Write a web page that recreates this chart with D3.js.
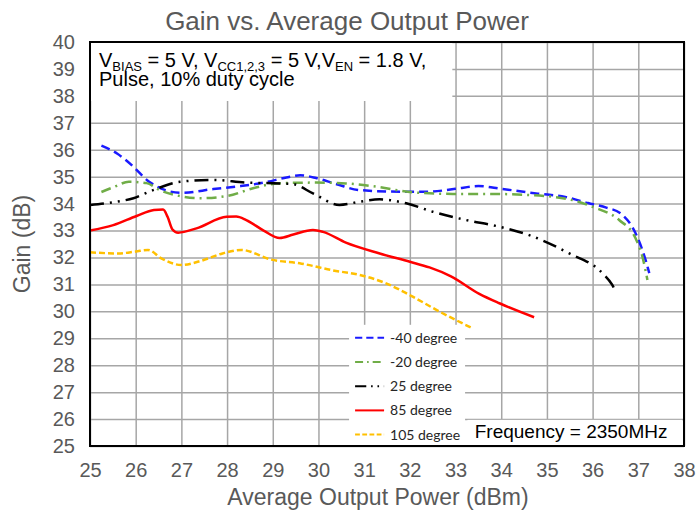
<!DOCTYPE html>
<html>
<head>
<meta charset="utf-8">
<script src="https://cdn.jsdelivr.net/npm/d3@7"></script>
<style>
  body { margin: 0; background: #fff; }
  text { font-family: "Liberation Sans", Arial, sans-serif; }
</style>
</head>
<body>
<svg id="chart" width="697" height="517"></svg>
<script>
// data: [output power dBm, gain dB]
const seriesNames = ["-40 degree", "-20 degree", "25 degree", "85 degree", "105 degree"];
const gainM40 = [[25.25,36.15],[25.6,35.85],[25.95,35.37],[26.25,34.87],[26.65,34.5],[27.0,34.4],[27.7,34.54],[28.3,34.65],[28.86,34.8],[29.3,34.97],[29.6,35.05],[29.95,34.95],[30.4,34.72],[30.9,34.5],[31.9,34.44],[32.4,34.44],[33.0,34.55],[33.5,34.65],[34.0,34.55],[34.8,34.37],[35.4,34.25],[35.9,34.02],[36.3,33.85],[36.6,33.65],[36.94,32.9],[37.16,31.9],[37.24,31.42]];
const gainM20 = [[25.25,34.43],[25.5,34.6],[25.85,34.81],[26.24,34.76],[26.53,34.5],[26.97,34.28],[27.4,34.2],[28.0,34.28],[28.57,34.57],[29.0,34.73],[29.45,34.77],[29.95,34.78],[30.6,34.75],[31.26,34.63],[32.06,34.42],[32.94,34.36],[33.66,34.36],[34.61,34.32],[35.56,34.13],[36.0,33.88],[36.58,33.39],[36.94,32.71],[37.09,32.03],[37.2,31.16]];
const gain25 = [[25.0,33.95],[25.5,34.05],[25.95,34.2],[26.38,34.5],[26.97,34.81],[27.69,34.88],[28.42,34.78],[29.15,34.75],[29.45,34.72],[29.88,34.38],[30.46,33.95],[30.9,34.07],[31.34,34.16],[31.92,34.01],[32.5,33.7],[33.23,33.39],[33.89,33.17],[34.61,32.83],[35.49,32.15],[36.22,31.41],[36.43,30.98],[36.5,30.75]];
const gain85 = [[25.0,33.0],[25.51,33.2],[26.02,33.54],[26.4,33.76],[26.6,33.78],[26.7,33.5],[26.8,33.05],[26.93,32.92],[27.33,33.08],[27.99,33.51],[28.2,33.52],[28.42,33.39],[28.8,33.0],[29.15,32.72],[29.45,32.85],[29.88,33.02],[30.1,32.95],[30.6,32.55],[31.34,32.15],[32.0,31.84],[32.43,31.63],[32.9,31.3],[33.52,30.65],[33.96,30.3],[34.72,29.78]];
const gain105 = [[25.0,32.19],[25.62,32.15],[26.0,32.22],[26.27,32.28],[26.56,31.97],[27.0,31.72],[27.44,31.88],[27.9,32.15],[28.31,32.28],[28.97,31.92],[29.63,31.77],[30.32,31.52],[30.9,31.35],[31.48,31.04],[31.99,30.61],[32.65,29.99],[33.37,29.37]];
const xTicks = d3.range(25, 39);
const yTicks = d3.range(25, 41);

const series = [
  { name: seriesNames[0], values: gainM40, color: "#1a1aff", dash: "9,5" },
  { name: seriesNames[1], values: gainM20, color: "#70ad47", dash: "10,5,2,5" },
  { name: seriesNames[2], values: gain25, color: "#000000", dash: "14,6,2,6,2,6" },
  { name: seriesNames[3], values: gain85, color: "#ff0000", dash: null },
  { name: seriesNames[4], values: gain105, color: "#ffc000", dash: "6,3" }
];

const margin = { top: 42, left: 90, right: 13, bottom: 71 };
const width = 697, height = 517;
const plotWidth = width - margin.left - margin.right;
const plotHeight = height - margin.top - margin.bottom;
const textColor = "#595959";

const svg = d3.select("#chart");

const x = d3.scaleLinear([25, 38], [0, plotWidth]);
const y = d3.scaleLinear([25, 40], [plotHeight, 0]);

svg.append("text")
  .attr("x", 347).attr("y", 30)
  .attr("text-anchor", "middle")
  .attr("font-size", 26)
  .attr("fill", textColor)
  .text("Gain vs. Average Output Power");

const plotArea = svg.append("g")
  .attr("transform", `translate(${margin.left}, ${margin.top})`);

// grid
plotArea.append("g")
  .attr("transform", `translate(0, ${plotHeight})`)
  .call(d3.axisBottom(x).tickValues(xTicks).tickSize(-plotHeight).tickFormat(""))
  .call((g) => g.select(".domain").remove())
  .selectAll("line").attr("stroke", "#a6a6a6").attr("stroke-width", 1.5);

plotArea.append("g")
  .call(d3.axisLeft(y).tickValues(yTicks).tickSize(-plotWidth).tickFormat(""))
  .call((g) => g.select(".domain").remove())
  .selectAll("line").attr("stroke", "#a6a6a6").attr("stroke-width", 1.5);

// tick labels
plotArea.append("g")
  .attr("transform", `translate(0, ${plotHeight + 14})`)
  .call(d3.axisBottom(x).tickValues(xTicks).tickSize(0).tickFormat(d3.format("d")))
  .call((g) => g.select(".domain").remove())
  .selectAll("text")
  .attr("font-size", 20)
  .attr("fill", textColor)
  .style("font-family", "Liberation Sans, Arial, sans-serif");

plotArea.append("g")
  .attr("transform", "translate(-12, 0)")
  .call(d3.axisLeft(y).tickValues(yTicks).tickSize(0).tickFormat(d3.format("d")))
  .call((g) => g.select(".domain").remove())
  .selectAll("text")
  .attr("font-size", 20)
  .attr("fill", textColor)
  .style("font-family", "Liberation Sans, Arial, sans-serif");

// white box behind the condition note
plotArea.append("rect")
  .attr("x", 0).attr("y", 0)
  .attr("width", x(32.93)).attr("height", 59)
  .attr("fill", "white");

const line = d3.line()
  .x((d) => x(d[0]))
  .y((d) => y(d[1]))
  .curve(d3.curveMonotoneX);

plotArea.append("g")
  .selectAll("path")
  .data(series)
  .join("path")
  .attr("d", (s) => line(s.values))
  .attr("fill", "none")
  .attr("stroke", (s) => s.color)
  .attr("stroke-width", 2.5)
  .attr("stroke-dasharray", (s) => s.dash);

// legend
const legend = plotArea.append("g").attr("transform", `translate(${x(30.67)}, ${y(29.5)})`);
legend.append("rect")
  .attr("x", 0).attr("y", 0)
  .attr("width", 116).attr("height", plotHeight - y(29.5))
  .attr("fill", "white");

const entry = legend.selectAll("g")
  .data(series)
  .join("g")
  .attr("transform", (s, i) => `translate(0, ${13 + i * 24.2})`);

entry.append("line")
  .attr("x1", 6).attr("x2", 35)
  .attr("y1", 0).attr("y2", 0)
  .attr("stroke", (s) => s.color)
  .attr("stroke-width", 2)
  .attr("stroke-dasharray", (s) => s.dash ? s.dash.split(",").map((v) => v * 0.8).join(",") : null);

entry.append("text")
  .attr("x", 41).attr("y", 5)
  .attr("font-size", 14)
  .style("font-family", "Lato, 'Open Sans', sans-serif")
  .attr("fill", "#262626")
  .text((s) => s.name);

// frequency note
plotArea.append("rect")
  .attr("x", x(33.26)).attr("y", y(25.97))
  .attr("width", x(38) - x(33.26) - 2).attr("height", plotHeight - y(25.97))
  .attr("fill", "white");

plotArea.append("text")
  .attr("x", x(33.42)).attr("y", plotHeight - 8)
  .attr("font-size", 19)
  .attr("fill", "#000")
  .text("Frequency = 2350MHz");

// condition note
const note = plotArea.append("text")
  .attr("x", 9).attr("y", 25)
  .attr("font-size", 20)
  .attr("fill", "#000");
const parts = [["V", 0], ["BIAS", 1], [" = 5 V, V", 0], ["CC1,2,3", 1], [" = 5 V,V", 0], ["EN", 1], [" = 1.8 V,", 0]];
parts.forEach(([t, sub], i) => {
  const prevSub = i > 0 ? parts[i - 1][1] : 0;
  note.append("tspan")
    .attr("dy", sub === prevSub ? 0 : (sub ? 4 : -4))
    .attr("font-size", sub ? 13 : 20)
    .text(t);
});
plotArea.append("text")
  .attr("x", 9).attr("y", 43.5)
  .attr("font-size", 20)
  .attr("fill", "#000")
  .text("Pulse, 10% duty cycle");

// frame
plotArea.append("rect")
  .attr("x", 0).attr("y", 0)
  .attr("width", plotWidth).attr("height", plotHeight)
  .attr("fill", "none")
  .attr("stroke", "black")
  .attr("stroke-width", 2);

// axis titles
svg.append("text")
  .attr("x", margin.left + plotWidth / 2 - 9).attr("y", 505)
  .attr("text-anchor", "middle")
  .attr("font-size", 23)
  .attr("fill", textColor)
  .text("Average Output Power (dBm)");

svg.append("text")
  .attr("transform", `translate(30, ${margin.top + plotHeight / 2}) rotate(-90)`)
  .attr("text-anchor", "middle")
  .attr("font-size", 23)
  .attr("fill", textColor)
  .text("Gain (dB)");
</script>
</body>
</html>
